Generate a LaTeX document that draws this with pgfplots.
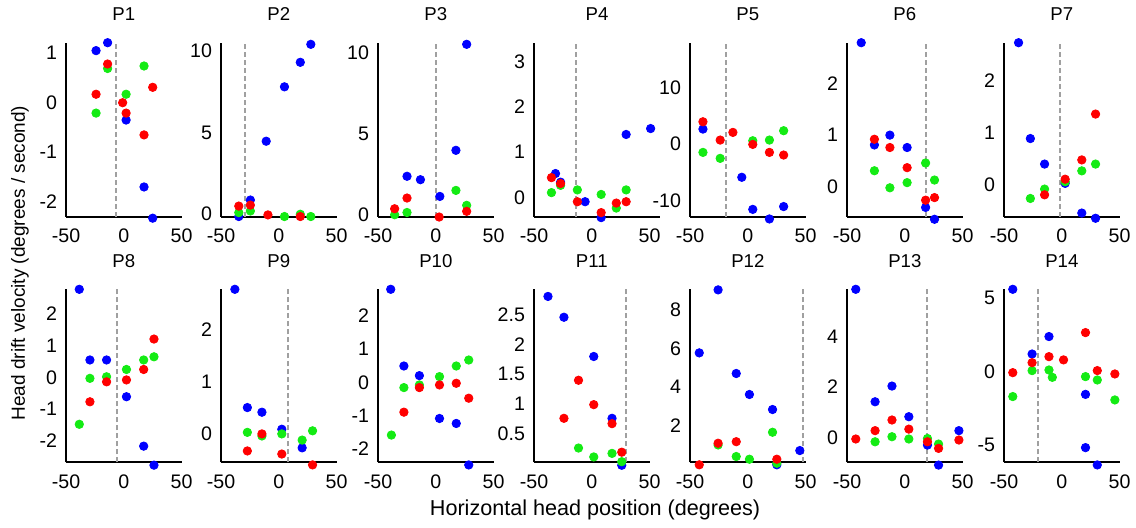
\documentclass[border=0pt]{standalone}
\usepackage{fontspec}
\setmainfont{Liberation Sans}
\usepackage{pgfplots}
\pgfplotsset{compat=1.18}
\definecolor{cb}{RGB}{0,0,255}
\definecolor{cg}{RGB}{20,235,20}
\definecolor{cr}{RGB}{255,0,0}
\definecolor{dg}{RGB}{160,160,160}
\pgfplotsset{
  panel/.style={
    scale only axis, height=87pt, xmin=-50, xmax=50, width=57.8pt,
    clip=false,
    axis x line=bottom, axis y line=left,
    axis line style={-, line width=1pt, black},
    major tick length=0pt,
    xtick={-50,0,50},
    /pgf/number format/assume math mode=true,
    tick label style={font=\fontsize{9.8}{11}\selectfont, black},
    xticklabel style={yshift=-2.5pt},
    yticklabel style={xshift=-1pt},
    title style={font=\fontsize{9.3}{11}\selectfont, at={(0.5,1)}, anchor=south, yshift=1.5pt},
    anchor=south west,
  },
  row2/.style={height=86.5pt},
  pb/.style={only marks, mark=*, mark size=2.1pt, color=cb},
  pg/.style={only marks, mark=*, mark size=2.1pt, color=cg},
  pr/.style={only marks, mark=*, mark size=2.1pt, color=cr},
  dl/.style={dg, line width=1pt, dash pattern=on 2.5pt off 1.5pt},
}
\begin{document}
\begin{tikzpicture}
\useasboundingbox (0,0) rectangle (568pt,263.5pt);
% ---------- Row 1 ----------
\begin{axis}[panel, at={(33pt,155.15pt)}, title={P1}, ymin=-2.30, ymax=1.21, ytick={-2,-1,0,1}]
\addplot[dl] coordinates {(-7,-2.30) (-7,1.21)};
\addplot[pb] coordinates {(-24,1.05) (-14,1.21) (2,-0.35) (17.5,-1.70) (25,-2.33)};
\addplot[pg] coordinates {(-24,-0.21) (-14,0.69) (2,0.17) (17.5,0.74)};
\addplot[pr] coordinates {(-24,0.17) (-14,0.78) (-1,0.0) (2,-0.21) (17.5,-0.65) (25,0.31)};
\end{axis}
\begin{axis}[panel, at={(110.5pt,155.15pt)}, title={P2}, ymin=-0.15, ymax=10.5, ytick={0,5,10}]
\addplot[dl] coordinates {(-29,-0.15) (-29,10.5)};
\addplot[pb] coordinates {(-34.6,-0.14) (-24.6,0.87) (-10.9,4.47) (4.9,7.8) (18.6,9.3) (27.7,10.4)};
\addplot[pg] coordinates {(-34.6,0.1) (-24.6,0.2) (4.9,-0.14) (18.6,0) (27.7,-0.14)};
\addplot[pr] coordinates {(-34.6,0.5) (-24.6,0.56) (-9.4,-0.04) (18.6,-0.14)};
\end{axis}
\begin{axis}[panel, at={(189pt,155.15pt)}, title={P3}, ymin=-0.12, ymax=10.6, ytick={0,5,10}]
\addplot[dl] coordinates {(0,-0.12) (0,10.6)};
\addplot[pb] coordinates {(-24.9,2.37) (-13.3,2.16) (3.5,1.13) (17.4,3.97) (26.7,10.5)};
\addplot[pg] coordinates {(-35.6,0.0) (-24.9,0.14) (17.4,1.5) (26.7,0.58)};
\addplot[pr] coordinates {(-35.6,0.37) (-24.9,1.03) (2.9,-0.14) (26.7,0.21)};
\end{axis}
\begin{axis}[panel, at={(267pt,155.15pt)}, title={P4}, xmax=59, width=63pt, ymin=-0.42, ymax=3.41, ytick={0,1,2,3}]
\addplot[dl] coordinates {(-13.7,-0.42) (-13.7,3.41)};
\addplot[pb] coordinates {(-31.4,0.53) (-27,0.34) (-5.8,-0.09) (8.1,-0.44) (29.7,1.39) (50.9,1.52)};
\addplot[pg] coordinates {(-34.9,0.11) (-27,0.27) (-12.5,0.17) (8.1,0.07) (21.2,-0.23) (29.7,0.17)};
\addplot[pr] coordinates {(-34.9,0.44) (-27,0.31) (-12.5,-0.09) (8.1,-0.33) (21.2,-0.12) (29.7,-0.09)};
\end{axis}
\begin{axis}[panel, at={(345pt,155.15pt)}, title={P5}, ymin=-12.9, ymax=18, ytick={-10,0,10}]
\addplot[dl] coordinates {(-18.7,-12.9) (-18.7,18)};
\addplot[pb] coordinates {(-38.8,2.66) (-5.2,-5.9) (4.3,-11.6) (18.7,-13.3) (31,-11.1)};
\addplot[pg] coordinates {(-38.8,-1.48) (-23.9,-2.54) (4.3,0.59) (18.7,0.71) (31,2.37)};
\addplot[pr] coordinates {(-38.8,3.96) (-23.9,0.71) (-12.9,2.07) (4.3,-0.06) (18.7,-1.48) (31,-1.95)};
\end{axis}
\begin{axis}[panel, at={(423.5pt,155.15pt)}, title={P6}, ymin=-0.58, ymax=2.79, ytick={0,1,2}]
\addplot[dl] coordinates {(18,-0.58) (18,2.79)};
\addplot[pb] coordinates {(-37.7,2.79) (-26.3,0.81) (-12.9,1.0) (2,0.76) (18,-0.40) (25.7,-0.63)};
\addplot[pg] coordinates {(-26.3,0.31) (-12.9,-0.02) (2,0.08) (18,0.46) (25.7,0.13)};
\addplot[pr] coordinates {(-26.3,0.92) (-12.9,0.76) (2,0.37) (18,-0.26) (25.7,-0.21)};
\end{axis}
\begin{axis}[panel, at={(502pt,155.15pt)}, title={P7}, ymin=-0.61, ymax=2.73, ytick={0,1,2}]
\addplot[dl] coordinates {(-1.5,-0.61) (-1.5,2.73)};
\addplot[pb] coordinates {(-37.4,2.73) (-27.2,0.89) (-14.9,0.40) (2.9,0.03) (17.3,-0.54) (29.2,-0.64)};
\addplot[pg] coordinates {(-27.2,-0.26) (-14.9,-0.08) (2.9,0.06) (17.3,0.27) (29.2,0.40)};
\addplot[pr] coordinates {(-14.9,-0.19) (2.9,0.11) (17.3,0.48) (29.2,1.36)};
\end{axis}
% ---------- Row 2 ----------
\begin{axis}[panel, row2, at={(33pt,32.35pt)}, title={P8}, ymin=-2.68, ymax=2.78, ytick={-2,-1,0,1,2}]
\addplot[dl] coordinates {(-6.3,-2.68) (-6.3,2.78)};
\addplot[pb] coordinates {(-38.5,2.78) (-29.3,0.55) (-14.9,0.55) (2.3,-0.61) (17.2,-2.17) (26.1,-2.77)};
\addplot[pg] coordinates {(-38.5,-1.48) (-29.3,-0.03) (-14.9,0.02) (2.3,0.25) (17.2,0.55) (26.1,0.65)};
\addplot[pr] coordinates {(-29.3,-0.77) (-14.9,-0.14) (2.3,-0.08) (17.2,0.25) (26.1,1.21)};
\end{axis}
\begin{axis}[panel, row2, at={(110.5pt,32.35pt)}, title={P9}, ymin=-0.56, ymax=2.79, ytick={0,1,2}]
\addplot[dl] coordinates {(8.2,-0.56) (8.2,2.79)};
\addplot[pb] coordinates {(-38,2.79) (-27.2,0.50) (-14.6,0.41) (2.6,0.08) (20.2,-0.28)};
\addplot[pg] coordinates {(-27.2,0.02) (-14.6,-0.05) (2.6,-0.01) (20.2,-0.13) (29.2,0.05)};
\addplot[pr] coordinates {(-27.2,-0.34) (-14.6,-0.01) (2.6,-0.40) (29.2,-0.61)};
\end{axis}
\begin{axis}[panel, row2, at={(189pt,32.35pt)}, title={P10}, ymin=-2.41, ymax=2.80, ytick={-2,-1,0,1,2}]
\addplot[pb] coordinates {(-39,2.80) (-27.6,0.49) (-14.2,0.20) (3.2,-1.09) (17.7,-1.24) (28.5,-2.49)};
\addplot[pg] coordinates {(-38.4,-1.59) (-27.6,-0.16) (-14.2,-0.08) (3.2,0.17) (17.7,0.49) (28.5,0.67)};
\addplot[pr] coordinates {(-27.6,-0.90) (-14.2,-0.16) (3.2,-0.08) (17.7,-0.03) (28.5,-0.48)};
\end{axis}
\begin{axis}[panel, row2, at={(267pt,32.35pt)}, title={P11}, ymin=0.02, ymax=2.93, ytick={0.5,1,1.5,2,2.5}]
\addplot[dl] coordinates {(29.6,0.02) (29.6,2.93)};
\addplot[pb] coordinates {(-37.9,2.81) (-24.1,2.46) (1.7,1.80) (17.5,0.76) (25.9,-0.03)};
\addplot[pg] coordinates {(-11.5,0.26) (1.7,0.11) (17.5,0.17) (25.9,0.03)};
\addplot[pr] coordinates {(-24.1,0.76) (-11.5,1.40) (1.7,0.99) (17.5,0.67) (25.9,0.19)};
\end{axis}
\begin{axis}[panel, row2, at={(345pt,32.35pt)}, title={P12}, ymin=0.1, ymax=9.08, ytick={2,4,6,8}]
\addplot[dl] coordinates {(48,0.1) (48,9.08)};
\addplot[pb] coordinates {(-42,5.78) (-25.7,9.05) (-10,4.71) (1.4,3.62) (21.4,2.84) (25.1,-0.03) (45,0.71)};
\addplot[pg] coordinates {(-25.7,1.0) (-10,0.40) (1.4,0.26) (21.4,1.66) (25.1,0.05)};
\addplot[pr] coordinates {(-42,-0.03) (-25.7,1.09) (-10,1.17) (25.1,0.26)};
\end{axis}
\begin{axis}[panel, row2, at={(423.5pt,32.35pt)}, title={P13}, ymin=-0.97, ymax=5.86, ytick={0,2,4}]
\addplot[dl] coordinates {(19,-0.97) (19,5.86)};
\addplot[pb] coordinates {(-42.4,5.86) (-25.7,1.42) (-11.1,2.04) (3.5,0.83) (19.6,-0.29) (29.2,-1.08) (46.8,0.28)};
\addplot[pg] coordinates {(-25.7,-0.16) (-11.1,0.04) (3.5,-0.05) (19.6,-0.03) (29.2,-0.25)};
\addplot[pr] coordinates {(-42.4,-0.05) (-25.7,0.28) (-11.1,0.70) (3.5,0.34) (19.6,-0.16) (29.2,-0.42) (46.8,-0.09)};
\end{axis}
\begin{axis}[panel, row2, at={(502pt,32.35pt)}, title={P14}, ymin=-6.18, ymax=5.61, ytick={-5,0,5}]
\addplot[dl] coordinates {(-20.8,-6.18) (-20.8,5.61)};
\addplot[pb] coordinates {(-42.4,5.61) (-25.7,1.20) (-11.1,2.39) (20.5,-1.55) (20.5,-5.18) (30.7,-6.36)};
\addplot[pg] coordinates {(-42.4,-1.70) (-25.7,0.07) (-11.1,0.11) (-8.2,-0.39) (20.5,-0.34) (30.7,-0.57) (45.9,-1.93)};
\addplot[pr] coordinates {(-42.4,-0.07) (-25.7,0.61) (-11.1,1.02) (1.5,0.80) (20.5,2.66) (30.7,0.07) (45.9,-0.16)};
\end{axis}
% ---------- shared labels ----------
\node[rotate=90, font=\fontsize{9.5}{11}\selectfont] at (10pt,132pt) {Head drift velocity (degrees / second)};
\node[font=\fontsize{10.8}{12}\selectfont] at (297.5pt,8.5pt) {Horizontal head position (degrees)};
\end{tikzpicture}
\end{document}
